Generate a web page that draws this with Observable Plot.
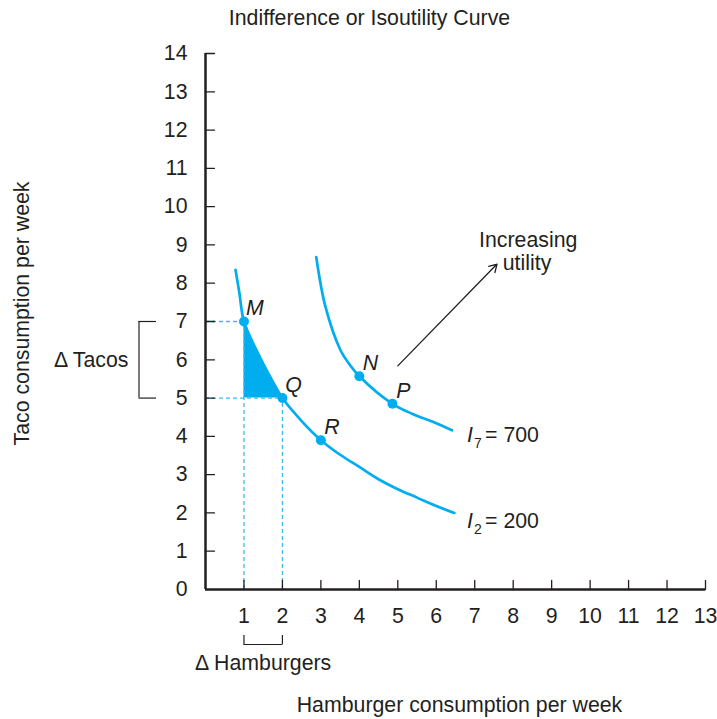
<!DOCTYPE html>
<html><head><meta charset="utf-8">
<script src="https://cdn.jsdelivr.net/npm/d3@7"></script>
<script src="https://cdn.jsdelivr.net/npm/@observablehq/plot@0.6"></script>
<style>body{margin:0;background:#fff}</style>
</head><body><div id="chart"></div>
<script>
const title = "Indifference or Isoutility Curve";
const xLabel = "Hamburger consumption per week";
const yLabel = "Taco consumption per week";
const xTicks = [1,2,3,4,5,6,7,8,9,10,11,12,13];
const yTicks = [0,1,2,3,4,5,6,7,8,9,10,11,12,13,14];

// Indifference curve I2 = 200
const i2X = [0.78, 0.88, 1.0, 1.35, 1.7, 2.0, 2.5, 3.0, 3.5, 4.0, 4.5, 5.0, 5.5, 6.0, 6.47];
const i2Y = [8.35, 7.75, 7.0, 6.2, 5.52, 5.0, 4.4, 3.9, 3.52, 3.2, 2.88, 2.62, 2.4, 2.18, 2.0];
// Indifference curve I7 = 700
const i7X = [2.88, 3.12, 3.51, 3.75, 4.0, 4.86, 5.4, 5.94, 6.41];
const i7Y = [8.68, 7.38, 6.25, 5.87, 5.57, 4.85, 4.58, 4.37, 4.16];

const pointNames = ["M", "Q", "R", "N", "P"];
const pointX = [1, 2, 3, 4, 4.86];
const pointY = [7, 5, 3.9, 5.57, 4.85];

const curveSubs = ["7", "2"];
const curveValues = ["= 700", "= 200"];
const curveLabelX = [6.8, 6.8];
const curveLabelY = [4.03, 1.78];

const arrowFrom = [5.0, 5.84];
const arrowTo = [7.58, 8.5];
const arrowText = ["Increasing", "utility"];
const arrowTextX = [8.39, 8.36];
const arrowTextY = [9.12, 8.52];

const deltaTacos = "Δ Tacos";
const deltaBurgers = "Δ Hamburgers";

const cyan = "#00aeef";
const ink = "#231f20";
const fs = 21.3;

const i2 = i2X.map((x, i) => ({x, y: i2Y[i]}));
const i7 = i7X.map((x, i) => ({x, y: i7Y[i]}));
const pts = pointNames.map((name, i) => ({name, x: pointX[i], y: pointY[i]}));
const M = pts[0], Q = pts[1];
const shaded = i2.filter(d => d.x >= M.x && d.x <= Q.x);
const curveLabels = curveSubs.map((s, i) => ({sub: s, value: curveValues[i], x: curveLabelX[i], y: curveLabelY[i]}));
const arrowLabels = arrowText.map((t, i) => ({t, x: arrowTextX[i], y: arrowTextY[i]}));

const chart = Plot.plot({
  width: 717, height: 719,
  marginLeft: 205, marginRight: 12, marginTop: 53, marginBottom: 130,
  style: {fontFamily: "'Liberation Sans', Arial, sans-serif", fontSize: fs + "px", color: ink, background: "#fff"},
  x: {domain: [0, 13]},
  y: {domain: [0, 14]},
  marks: [
    Plot.areaY(shaded, {x: "x", y1: Q.y, y2: "y", curve: "catmull-rom", fill: cyan}),
    Plot.ruleX([M, Q], {x: "x", y1: 0, y2: "y", stroke: "#3cbdec", strokeWidth: 1.3, strokeDasharray: "4,3"}),
    Plot.ruleY([M, Q], {y: "y", x1: 0, x2: "x", stroke: "#3cbdec", strokeWidth: 1.3, strokeDasharray: "4,3"}),
    Plot.line(i2, {x: "x", y: "y", curve: "catmull-rom", stroke: cyan, strokeWidth: 2.7}),
    Plot.line(i7, {x: "x", y: "y", curve: "catmull-rom", stroke: cyan, strokeWidth: 2.7}),
    Plot.dot(pts, {x: "x", y: "y", r: 5, fill: cyan}),
    Plot.text(pts, {x: "x", y: "y", text: "name", dx: 11, dy: -13, fontStyle: "italic", fill: ink, fontSize: fs}),
    // axes
    Plot.ruleX([0], {stroke: ink, strokeWidth: 2.5}),
    Plot.ruleY([0], {stroke: ink, strokeWidth: 2.5}),
    Plot.vector(xTicks, {x: d => d, y: 0, length: 9, rotate: 0, anchor: "start", r: 0, stroke: ink, strokeWidth: 1.3}),
    Plot.vector(yTicks.filter(d => d > 0), {x: 0, y: d => d, length: 9, rotate: 90, anchor: "start", r: 0, stroke: ink, strokeWidth: 1.3}),
    Plot.axisX({ticks: xTicks, tickSize: 0, tickPadding: 18, label: null, fill: ink}),
    Plot.axisY({ticks: yTicks, tickSize: 0, tickPadding: 18, label: null, fill: ink}),
    // curve labels
    Plot.text(curveLabels, {x: "x", y: "y", text: () => "I", textAnchor: "start", fontStyle: "italic", fill: ink, fontSize: fs}),
    Plot.text(curveLabels, {x: "x", y: "y", text: "sub", textAnchor: "start", dx: 7, dy: 8, fill: ink, fontSize: 14}),
    Plot.text(curveLabels, {x: "x", y: "y", text: "value", textAnchor: "start", dx: 18, fill: ink, fontSize: fs}),
    // arrow
    Plot.arrow([{x1: arrowFrom[0], y1: arrowFrom[1], x2: arrowTo[0], y2: arrowTo[1]}], {x1: "x1", y1: "y1", x2: "x2", y2: "y2", stroke: ink, strokeWidth: 1.3, headLength: 10}),
    Plot.text(arrowLabels, {x: "x", y: "y", text: "t", fill: ink, fontSize: fs}),
    // delta brackets
    Plot.ruleX([0], {y1: Q.y, y2: M.y, dx: -66.5, stroke: ink, strokeWidth: 1.2}),
    Plot.ruleY([Q.y, M.y], {insetLeft: -66.5, insetRight: 549, stroke: ink, strokeWidth: 1.2}),
    Plot.text([deltaTacos], {x: 0, y: (M.y + Q.y) / 2, text: d => d, textAnchor: "end", dx: -77, fill: ink, fontSize: fs}),
    Plot.ruleY([0], {x1: M.x, x2: Q.x, dy: 55, stroke: ink, strokeWidth: 1.2}),
    Plot.ruleX([M.x, Q.x], {insetTop: 582, insetBottom: -55.5, stroke: ink, strokeWidth: 1.2}),
    Plot.text([deltaBurgers], {x: (M.x + Q.x) / 2, y: 0, text: d => d, dy: 74, fill: ink, fontSize: fs}),
    // titles
    Plot.text([title], {frameAnchor: "top", text: d => d, textAnchor: "middle", dx: -86, dy: -44, fill: ink, fontSize: fs}),
    Plot.text([xLabel], {frameAnchor: "bottom", text: d => d, textAnchor: "middle", dx: 4, dy: 122, fill: ink, fontSize: fs}),
    Plot.text([yLabel], {frameAnchor: "left", text: d => d, textAnchor: "middle", rotate: -90, dx: -183, dy: -8, fill: ink, fontSize: fs})
  ]
});
document.getElementById("chart").appendChild(chart);
</script>
</body></html>
